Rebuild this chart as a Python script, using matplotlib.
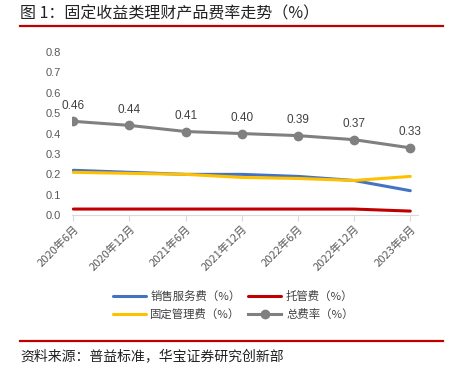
import matplotlib.pyplot as plt
from matplotlib.lines import Line2D

plt.rcParams['font.family'] = ['Noto Sans CJK SC', 'DejaVu Sans']

periods = ["2020年6月", "2020年12月", "2021年6月", "2021年12月",
           "2022年6月", "2022年12月", "2023年6月"]
sales_fee = [0.22, 0.21, 0.20, 0.20, 0.19, 0.17, 0.12]
custody_fee = [0.03, 0.03, 0.03, 0.03, 0.03, 0.03, 0.02]
mgmt_fee = [0.21, 0.205, 0.20, 0.185, 0.18, 0.17, 0.19]
total_fee = [0.46, 0.44, 0.41, 0.40, 0.39, 0.37, 0.33]

title = "图 1：固定收益类理财产品费率走势（%）"
source = "资料来源：普益标准，华宝证券研究创新部"

fig = plt.figure(figsize=(4.57, 3.71), dpi=100)
ax = fig.add_axes([0.158, 0.42, 0.757, 0.44])

x = list(range(len(periods)))
ax.plot(x, sales_fee, color="#4472C4", linewidth=2.2, solid_capstyle="round",
        label="销售服务费（%）")
ax.plot(x, mgmt_fee, color="#FFC000", linewidth=2.2, solid_capstyle="round",
        label="固定管理费（%）")
ax.plot(x, custody_fee, color="#C00000", linewidth=2.2, solid_capstyle="round",
        label="托管费（%）")
ax.plot(x, total_fee, color="#808080", linewidth=2.2, marker="o", markersize=6,
        label="总费率（%）")

# data labels on the total line
for xi, v in zip(x, total_fee):
    ax.annotate(f"{v:.2f}", (xi, v), xytext=(0, 7), textcoords="offset points",
                ha="center", va="bottom", fontsize=8.5, color="#404040",
                family=["Liberation Sans", "DejaVu Sans"])

ax.set_ylim(0, 0.8)
ax.set_xlim(-0.02, 6.14)
ax.set_yticks([i / 10 for i in range(9)])
ax.set_yticklabels([f"{i / 10:.1f}" for i in range(9)],
                   family=["Liberation Sans", "DejaVu Sans"])
ax.set_xticks(x)
ax.set_xticklabels(periods, rotation=45, ha="right", rotation_mode="anchor")
ax.tick_params(axis="y", length=0, labelsize=8, labelcolor="#595959", pad=8)
ax.tick_params(axis="x", length=4, color="#D9D9D9", labelsize=8,
               labelcolor="#595959", pad=2)

for side in ["top", "right", "left"]:
    ax.spines[side].set_visible(False)
ax.spines["bottom"].set_color("#D9D9D9")

ax.legend(loc="upper center", bbox_to_anchor=(0.465, -0.40), ncol=2,
          frameon=False, fontsize=8.2, handlelength=2.9, columnspacing=0.7,
          labelspacing=0.6, handletextpad=0.4, labelcolor="#404040")

# header, rules and source
fig.text(0.044, 0.962, title, fontsize=11.5, va="center", ha="left", color="#222222")
fig.add_artist(Line2D([0.044, 0.97], [0.93, 0.93], color="#C00000", linewidth=1.6))
fig.add_artist(Line2D([0.044, 0.97], [0.081, 0.081], color="#C00000", linewidth=1.6))
fig.text(0.044, 0.04, source, fontsize=10, va="center", ha="left", color="#222222")

fig.savefig("out.png", dpi=100)
